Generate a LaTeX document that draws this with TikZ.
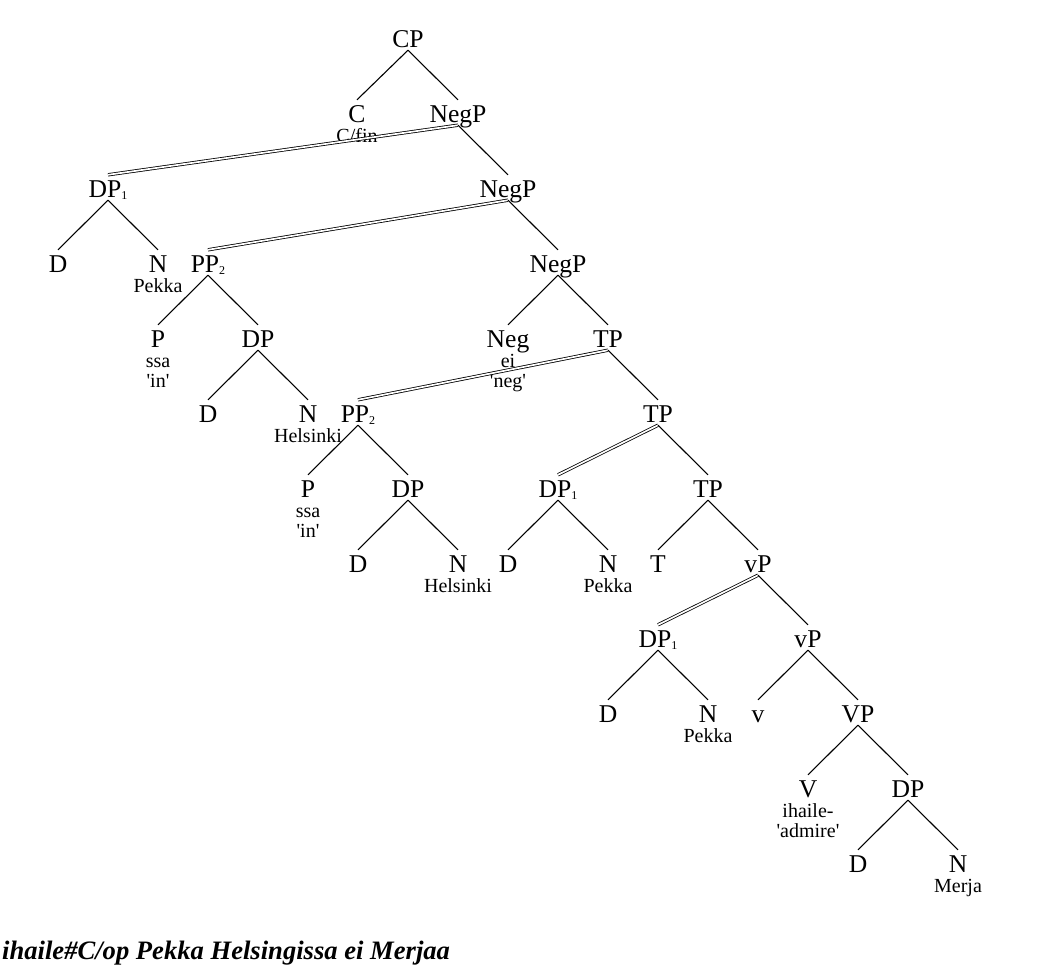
\documentclass[tikz,border=0pt]{standalone}
\usepackage{fontspec}
\setmainfont{Liberation Serif}
\usepackage{tikz}
\newcommand{\catfont}{\fontsize{25.6}{28}\selectfont}
\newcommand{\glossfont}{\fontsize{20}{20}\selectfont}
\newcommand{\subidx}[1]{\raisebox{-2pt}{\fontsize{12}{12}\selectfont #1}}
\newcommand{\twoline}[2]{\begin{tabular}[t]{@{}c@{}}#1\\#2\end{tabular}}
\newcommand{\q}{\textquotesingle}
\tikzstyle{cat} = [font=\catfont, anchor=base, inner xsep=0pt, inner ysep=3pt,
text height=19pt, text depth=0pt]
\tikzstyle{gloss} = [font=\glossfont, anchor=base, inner sep=0pt]
\tikzstyle{branch} = [line width=1.1pt]
\tikzstyle{specbranch} = [line width=0.8pt, double, double distance=1.7pt]
\begin{document}
\begin{tikzpicture}[x=1pt, y=-1pt]
		\useasboundingbox (0,0) rectangle (1050,975);
		% categories
		\node (cp) [cat] at (408,47) {CP};
		\node (c) [cat] at (357,122) {C};
		\node (negp1) [cat] at (458,122) {NegP};
		\node (dp1a) [cat] at (108,197) {DP\subidx{1}};
		\node (negp2) [cat] at (508,197) {NegP};
		\node (d1) [cat] at (58,272) {D};
		\node (n1) [cat] at (158,272) {N};
		\node (pp2a) [cat] at (208,272) {PP\subidx{2}};
		\node (negp3) [cat] at (558,272) {NegP};
		\node (p1) [cat] at (158,347) {P};
		\node (dp2) [cat] at (258,347) {DP};
		\node (neg) [cat] at (508,347) {Neg};
		\node (tp1) [cat] at (608,347) {TP};
		\node (d2) [cat] at (208,422) {D};
		\node (n2) [cat] at (308,422) {N};
		\node (pp2b) [cat] at (358,422) {PP\subidx{2}};
		\node (tp2) [cat] at (658,422) {TP};
		\node (p2) [cat] at (308,497) {P};
		\node (dp3) [cat] at (408,497) {DP};
		\node (dp1b) [cat] at (558,497) {DP\subidx{1}};
		\node (tp3) [cat] at (708,497) {TP};
		\node (d3) [cat] at (358,572) {D};
		\node (n3) [cat] at (458,572) {N};
		\node (d4) [cat] at (508,572) {D};
		\node (n4) [cat] at (608,572) {N};
		\node (t) [cat] at (658,572) {T};
		\node (vp1) [cat] at (758,572) {vP};
		\node (dp1c) [cat] at (658,647) {DP\subidx{1}};
		\node (vp2) [cat] at (808,647) {vP};
		\node (d5) [cat] at (608,722) {D};
		\node (n5) [cat] at (708,722) {N};
		\node (v) [cat] at (758,722) {v};
		\node (vp) [cat] at (858,722) {VP};
		\node (vv) [cat] at (808,797) {V};
		\node (dp4) [cat] at (908,797) {DP};
		\node (d6) [cat] at (858,872) {D};
		\node (n6) [cat] at (958,872) {N};
		% glosses
		\node (cgl) [gloss] at ([yshift=-20pt]c.base) {C/fin};
		\node (n1gl) [gloss] at ([yshift=-20pt]n1.base) {Pekka};
		\node (p1gl) [gloss] at ([yshift=-20pt]p1.base) {\twoline{ssa}{\q in\q}};
		\node (neggl) [gloss] at ([yshift=-20pt]neg.base) {\twoline{ei}{\q neg\q}};
		\node (n2gl) [gloss] at ([yshift=-20pt]n2.base) {Helsinki};
		\node (p2gl) [gloss] at ([yshift=-20pt]p2.base) {\twoline{ssa}{\q in\q}};
		\node (n3gl) [gloss] at ([yshift=-20pt]n3.base) {Helsinki};
		\node (n4gl) [gloss] at ([yshift=-20pt]n4.base) {Pekka};
		\node (n5gl) [gloss] at ([yshift=-20pt]n5.base) {Pekka};
		\node (vvgl) [gloss] at ([yshift=-20pt]vv.base) {\twoline{ihaile-}{\q admire\q}};
		\node (n6gl) [gloss] at ([yshift=-20pt]n6.base) {Merja};
		% sentence
		\node (sentence) [anchor=base west, inner sep=0pt,
		font=\fontsize{26.6}{27}\selectfont\bfseries\itshape] at (2,959)
		{ihaile\#C/op Pekka Helsingissa ei Merjaa};
		% branches
		\draw [branch] (cp.south) -- (c.north);
		\draw [branch] (cp.south) -- (negp1.north);
		\draw [specbranch] (negp1.south) -- (dp1a.north);
		\draw [branch] (negp1.south) -- (negp2.north);
		\draw [branch] (dp1a.south) -- (d1.north);
		\draw [branch] (dp1a.south) -- (n1.north);
		\draw [specbranch] (negp2.south) -- (pp2a.north);
		\draw [branch] (negp2.south) -- (negp3.north);
		\draw [branch] (pp2a.south) -- (p1.north);
		\draw [branch] (pp2a.south) -- (dp2.north);
		\draw [branch] (negp3.south) -- (neg.north);
		\draw [branch] (negp3.south) -- (tp1.north);
		\draw [branch] (dp2.south) -- (d2.north);
		\draw [branch] (dp2.south) -- (n2.north);
		\draw [specbranch] (tp1.south) -- (pp2b.north);
		\draw [branch] (tp1.south) -- (tp2.north);
		\draw [branch] (pp2b.south) -- (p2.north);
		\draw [branch] (pp2b.south) -- (dp3.north);
		\draw [specbranch] (tp2.south) -- (dp1b.north);
		\draw [branch] (tp2.south) -- (tp3.north);
		\draw [branch] (dp3.south) -- (d3.north);
		\draw [branch] (dp3.south) -- (n3.north);
		\draw [branch] (dp1b.south) -- (d4.north);
		\draw [branch] (dp1b.south) -- (n4.north);
		\draw [branch] (tp3.south) -- (t.north);
		\draw [branch] (tp3.south) -- (vp1.north);
		\draw [specbranch] (vp1.south) -- (dp1c.north);
		\draw [branch] (vp1.south) -- (vp2.north);
		\draw [branch] (dp1c.south) -- (d5.north);
		\draw [branch] (dp1c.south) -- (n5.north);
		\draw [branch] (vp2.south) -- (v.north);
		\draw [branch] (vp2.south) -- (vp.north);
		\draw [branch] (vp.south) -- (vv.north);
		\draw [branch] (vp.south) -- (dp4.north);
		\draw [branch] (dp4.south) -- (d6.north);
		\draw [branch] (dp4.south) -- (n6.north);
	\end{tikzpicture}
\end{document}
